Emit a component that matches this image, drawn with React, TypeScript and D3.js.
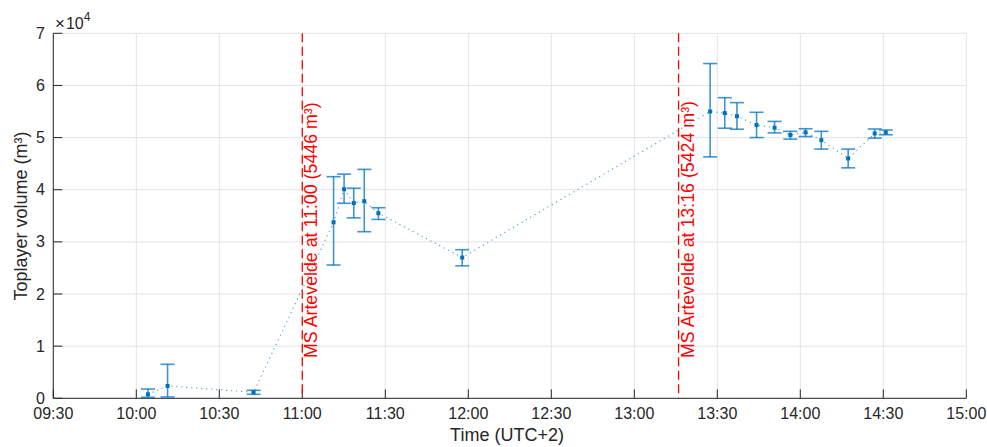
import React from "react";
import * as d3 from "d3";

const times = [
  "10:04:12", "10:11:18", "10:42:24", "11:11:18", "11:15:06", "11:18:36", "11:22:24",
  "11:27:30", "11:57:48", "13:27:24", "13:32:42", "13:37:06", "13:44:12", "13:50:42",
  "13:56:24", "14:01:54", "14:07:36", "14:17:18", "14:26:54", "14:30:54",
];
const volumes = [
  770, 2360, 1150, 33750, 40100, 37450, 37800, 35500, 27000, 55000, 54700, 54100,
  52400, 51900, 50500, 51000, 49500, 46000, 50800, 51000,
];
const lowers = [
  190, 250, 770, 25560, 37400, 34600, 31950, 34300, 25400, 46300, 51800, 51600,
  50000, 50900, 49700, 50200, 47800, 44200, 49900, 50550,
];
const uppers = [
  1780, 6520, 1530, 42500, 43000, 40300, 43900, 36550, 28500, 64200, 57650, 56700,
  54850, 53100, 51200, 51700, 51200, 47800, 51650, 51450,
];
const events = ["11:00:00", "13:16:00"];
const eventLabels = ["MS Artevelde at 11:00 (5446 m³)", "MS Artevelde at 13:16 (5424 m³)"];
const xTickTimes = [
  "09:30:00", "10:00:00", "10:30:00", "11:00:00", "11:30:00", "12:00:00",
  "12:30:00", "13:00:00", "13:30:00", "14:00:00", "14:30:00", "15:00:00",
];
const yTicks = [0, 10000, 20000, 30000, 40000, 50000, 60000, 70000];

const parse = d3.timeParse("%H:%M:%S");
const fmt = d3.timeFormat("%H:%M");

export default function App() {
  const left = 53.3, right = 966.3, top = 33.3, bottom = 398.3;
  const x = d3.scaleTime().domain([parse("09:30:00")!, parse("15:00:00")!]).range([left, right]);
  const y = d3.scaleLinear().domain([0, 70000]).range([bottom, top]);
  const pts = times.map((t, i) => ({ t: parse(t)!, v: volumes[i], lo: lowers[i], hi: uppers[i] }));
  const line = d3.line<any>().x((d) => x(d.t)).y((d) => y(d.v));
  const font = "'Liberation Sans', Arial, Helvetica, sans-serif";
  const textCol = "#262626";
  const blue = "#0072BD";
  const xt = xTickTimes.map((s) => parse(s)!);

  return (
    <svg width={987} height={447} style={{ position: "absolute", left: 0, top: 0, background: "#fff" }} fontFamily={font}>
      <rect x={0} y={0} width={987} height={447} fill="#fff" />
      {xt.map((t, i) => (
        <line key={"gx" + i} x1={x(t)} x2={x(t)} y1={top} y2={bottom} stroke="#e3e3e3" strokeWidth={1} />
      ))}
      {yTicks.map((v, i) => (
        <line key={"gy" + i} x1={left} x2={right} y1={y(v)} y2={y(v)} stroke="#e3e3e3" strokeWidth={1} />
      ))}
      <line x1={left} x2={left} y1={top} y2={bottom} stroke={textCol} strokeWidth={1} />
      <line x1={left} x2={right} y1={bottom} y2={bottom} stroke={textCol} strokeWidth={1} />
      {xt.map((t, i) => (
        <g key={"xt" + i}>
          <line x1={x(t)} x2={x(t)} y1={bottom} y2={bottom - 9} stroke={textCol} strokeWidth={1} />
          <text x={x(t)} y={419} textAnchor="middle" fontSize={16} fill={textCol}>{fmt(t)}</text>
        </g>
      ))}
      {yTicks.map((v, i) => (
        <g key={"yt" + i}>
          <line x1={left} x2={left + 9} y1={y(v)} y2={y(v)} stroke={textCol} strokeWidth={1} />
          <text x={45} y={y(v) + 5.6} textAnchor="end" fontSize={16} fill={textCol}>{v / 10000}</text>
        </g>
      ))}
      <text x={55} y={29} fontSize={16} fill={textCol}>
        <tspan fontSize={17}>×</tspan>
        <tspan dx={1}>10</tspan>
        <tspan fontSize={12} dy={-8}>4</tspan>
      </text>
      <text transform="translate(27,216) rotate(-90)" textAnchor="middle" fontSize={18} fill={textCol}>
        Toplayer volume (m³)
      </text>
      <text x={507} y={441} textAnchor="middle" fontSize={18} fill={textCol}>Time (UTC+2)</text>
      {events.map((e, i) => {
        const ex = x(parse(e)!);
        return (
          <g key={"ev" + i}>
            <line x1={ex} x2={ex} y1={top} y2={bottom} stroke="#ff0000" strokeWidth={1.3} strokeDasharray="9 4.5" />
            <text transform={`translate(${ex + 15},358) rotate(-90)`} fontSize={17.8} fill="#ff0000">
              {eventLabels[i]}
            </text>
          </g>
        );
      })}
      <path d={line(pts)!} fill="none" stroke={blue} strokeOpacity={0.65} strokeWidth={1.2} strokeDasharray="1.2 3.8" />
      {pts.map((p, i) => {
        const px = x(p.t);
        return (
          <g key={"p" + i} stroke={blue} strokeOpacity={0.75} strokeWidth={1.6}>
            <line x1={px} x2={px} y1={y(p.lo)} y2={y(p.hi)} />
            <line x1={px - 7} x2={px + 7} y1={y(p.lo)} y2={y(p.lo)} />
            <line x1={px - 7} x2={px + 7} y1={y(p.hi)} y2={y(p.hi)} />
            <rect x={px - 2} y={y(p.v) - 2} width={4} height={4} fill={blue} stroke="none" />
          </g>
        );
      })}
    </svg>
  );
}
